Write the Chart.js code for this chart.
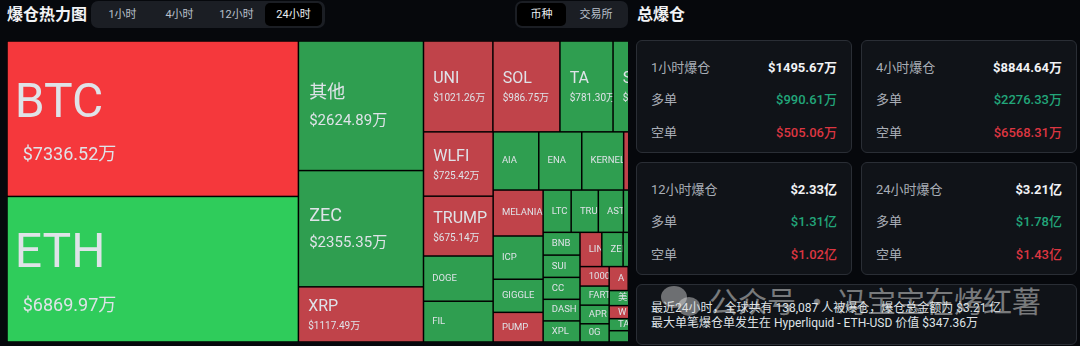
<!DOCTYPE html>
<html lang="zh-CN">
<head>
<meta charset="utf-8">
<title>爆仓热力图</title>
<script src="https://cdn.jsdelivr.net/npm/chart.js@4.4.1/dist/chart.umd.min.js"></script>
<style>
  html, body { margin: 0; padding: 0; width: 1080px; height: 346px; overflow: hidden; background: #06080c;
    font-family: Roboto, "Noto Sans CJK SC", "Noto Sans", sans-serif; color: #e6e8eb; }
  .title { position: absolute; top: 4px; font-size: 16px; font-weight: 700; line-height: 22px; color: #f2f3f5; }
  .seg { position: absolute; top: 1px; height: 27px; background: #1b1e24; border-radius: 7px; display: flex;
    align-items: center; padding: 0 3px; box-sizing: border-box; }
  .seg span { display: block; height: 23px; line-height: 23px; font-size: 11px; color: #b9c0ca; text-align: center; border-radius: 5px; }
  .seg span.on { background: #000; color: #eceff3; }
  #wrap { position: absolute; left: 7px; top: 41px; width: 621px; height: 301px; background: #000; }
  .card { position: absolute; background: #101318; border: 1px solid #2a2e35; border-radius: 6px; box-sizing: border-box; }
  .row { position: absolute; left: 14px; right: 14px; height: 20px; line-height: 20px; font-size: 13px; color: #a9aeb6; }
  .row b { position: absolute; right: 0; top: 0; font-weight: 700; color: #f1f2f4; }
  .row b.long { color: #22a67a; font-weight: 500; }
  .row b.short { color: #dc3641; font-weight: 500; }
  .note { position: absolute; left: 14px; font-size: 12px; line-height: 15px; color: #dfe2e6; white-space: nowrap; }
  .wm { position: absolute; left: 709px; top: 282px; font-size: 29px; line-height: 36px; color: rgba(225,225,225,0.5);
    font-family: "Noto Sans CJK SC", sans-serif; white-space: nowrap; }
  .wmicon { position: absolute; border-radius: 50%; background: rgba(225,225,225,0.45); }
</style>
</head>
<body>
<div class="title" style="left:7px">爆仓热力图</div>
<div class="seg" style="left:91px;width:234px" id="timeSeg"></div>
<div class="seg" style="left:515px;width:113px;padding:0 2px" id="groupSeg"></div>
<div class="title" style="left:637px">总爆仓</div>

<div id="wrap"><canvas id="chart"></canvas></div>
<div id="cards"></div>

<script>
// 币种爆仓金额（万美元），24小时
const coins = ['BTC', 'ETH', '其他', 'ZEC', 'XRP', 'UNI', 'SOL', 'TA', 'S', 'WLFI', 'TRUMP',
  'DOGE', 'FIL', 'AIA', 'ENA', 'KERNEL', '', 'MELANIA', 'ICP', 'GIGGLE', 'PUMP',
  'LTC', 'TRU', 'ASTER', '', '', 'BNB', 'SUI', 'CC', 'DASH', 'XPL',
  'LINK', 'ZEN', '', '', '1000PEPE', 'FARTCOIN', 'APR', '0G',
  'A', '', '', '美', 'W', 'TAO', '', '', '', '', '', '', '', '', ''];
const amounts = [7336.52, 6869.97, 2624.89, 2355.35, 1117.49, 1021.26, 986.75, 781.30, 750, 725.42, 675.14,
  510, 460, 430, 405, 395, 380, 372, 350, 268, 240,
  192, 186, 172, 140, 138, 136, 133, 131, 129, 126,
  121, 118, 115, 112, 92, 90, 88, 86,
  74, 71, 68, 60, 52, 48, 45, 42, 40, 37, 34, 31, 28, 25, 15];
// 主导方向：long 多单爆仓多（绿），short 空单爆仓多（红）
const dominant = ['short', 'long', 'long', 'long', 'short', 'short', 'short', 'long', 'long', 'short', 'short',
  'long', 'long', 'long', 'long', 'long', 'short', 'short', 'long', 'long', 'short',
  'long', 'long', 'long', 'long', 'long', 'long', 'long', 'long', 'long', 'long',
  'short', 'long', 'long', 'short', 'short', 'long', 'long', 'long',
  'short', 'long', 'short', 'long', 'short', 'long', 'long', 'short', 'long', 'long', 'short', 'long', 'long', 'short', 'long'];

const timeTabs = ['1小时', '4小时', '12小时', '24小时'];
const groupTabs = ['币种', '交易所'];

const periods = ['1小时爆仓', '4小时爆仓', '12小时爆仓', '24小时爆仓'];
const totals = ['$1495.67万', '$8844.64万', '$2.33亿', '$3.21亿'];
const longs = ['$990.61万', '$2276.33万', '$1.31亿', '$1.78亿'];
const shorts = ['$505.06万', '$6568.31万', '$1.02亿', '$1.43亿'];
const notes = ['最近24小时，全球共有 138,087 人被爆仓，爆仓总金额为 $3.21 亿',
  '最大单笔爆仓单发生在 Hyperliquid - ETH-USD 价值 $347.36万'];

// 顶部切换按钮
timeTabs.forEach((t, i) => {
  const s = document.createElement('span');
  s.textContent = t;
  s.style.width = '57px';
  if (i === 3) s.className = 'on';
  document.getElementById('timeSeg').appendChild(s);
});
groupTabs.forEach((t, i) => {
  const s = document.createElement('span');
  s.textContent = t;
  s.style.width = i === 0 ? '49px' : '60px';
  if (i === 0) s.className = 'on';
  document.getElementById('groupSeg').appendChild(s);
});

// 右侧汇总卡片
const cardsEl = document.getElementById('cards');
periods.forEach((p, i) => {
  const c = document.createElement('div');
  c.className = 'card';
  c.style.left = (i % 2 === 0 ? 636 : 861) + 'px';
  c.style.top = (i < 2 ? 40 : 162) + 'px';
  c.style.width = '216px';
  c.style.height = '113px';
  c.innerHTML =
    `<div class="row" style="top:17px">${p}<b>${totals[i]}</b></div>` +
    `<div class="row" style="top:49px">多单<b class="long">${longs[i]}</b></div>` +
    `<div class="row" style="top:82px">空单<b class="short">${shorts[i]}</b></div>`;
  cardsEl.appendChild(c);
});
const noteCard = document.createElement('div');
noteCard.className = 'card';
noteCard.style.cssText = 'left:636px;top:284px;width:441px;height:61px';
noteCard.innerHTML = notes.map((n, i) => `<div class="note" style="top:${16 + i * 15}px">${n}</div>`).join('');
cardsEl.appendChild(noteCard);

// 水印
cardsEl.insertAdjacentHTML('beforeend',
  '<div class="wmicon" style="left:661px;top:286px;width:26px;height:22px"></div>' +
  '<div class="wmicon" style="left:678px;top:297px;width:22px;height:19px"></div>' +
  '<div class="wm">公众号 · 冯宝宝在烤红薯</div>');

// 矩形树图布局（squarify，比例取黄金分割）
const LAYOUT_W = 657, LAYOUT_H = 301, VIEW_W = 621;

function worst(row, fixed, ratio) {
  let amax = 0, amin = Infinity;
  row.forEach(n => { if (n.area > amax) amax = n.area; if (n.area < amin) amin = n.area; });
  const sq = row.area * row.area;
  const f = fixed * fixed * ratio;
  return sq ? Math.max(f * amax / sq, sq / (f * amin)) : Infinity;
}

function place(row, fixed, rect, flush, out) {
  const horiz = fixed === rect.width;
  let last = horiz ? rect.x : rect.y;
  let other = fixed ? row.area / fixed : 0;
  const otherMax = horiz ? rect.height : rect.width;
  if (flush || other > otherMax) other = otherMax;
  const end = horiz ? rect.x + rect.width : rect.y + rect.height;
  row.forEach((n, k) => {
    const step = other ? n.area / other : 0;
    const remain = end - last;
    const len = (k === row.length - 1 || remain < step) ? remain : step;
    out[n.i] = horiz
      ? { x: last, y: rect.y, w: len, h: other }
      : { x: rect.x, y: last, w: other, h: len };
    last += len;
  });
  if (horiz) { rect.y += other; rect.height -= other; }
  else { rect.x += other; rect.width -= other; }
}

function squarify(values, W, H, ratio) {
  const total = values.reduce((a, b) => a + b, 0);
  const nodes = values.map((v, i) => ({ i, area: v / total * W * H })).sort((a, b) => b.area - a.area);
  const rect = { x: 0, y: 0, width: W, height: H };
  const out = new Array(values.length);
  let row = []; row.area = 0;
  let best = Infinity;
  let fixed = Math.min(rect.width, rect.height);
  while (nodes.length) {
    const n = nodes[0];
    row.push(n); row.area += n.area;
    const score = worst(row, fixed, ratio);
    if (score <= best) { nodes.shift(); best = score; }
    else {
      row.area -= row.pop().area;
      place(row, fixed, rect, false, out);
      fixed = Math.min(rect.width, rect.height);
      row = []; row.area = 0; best = Infinity;
    }
  }
  if (row.length) place(row, fixed, rect, true, out);
  return out;
}

const cells = squarify(amounts, LAYOUT_W, LAYOUT_H, 0.5 * (1 + Math.sqrt(5)));

function cellColor(i) {
  const big = amounts[i] > 5000;
  if (dominant[i] === 'short') return big ? '#f5383c' : '#c0434a';
  return big ? '#2fcc5b' : '#2f9e50';
}

function tier(w, h) {
  const area = w * h;
  if (area > 30000) return { label: 48, value: 18, padL: 7, padV: 15, dyL: -14, dyV: 37 };
  if (area > 12000) return { label: 18, value: 15, padL: 10, padV: 10, dyL: -12, dyV: 15 };
  if ((w >= 40 && h >= 58) || (w >= 100 && h >= 45)) return { label: 16, value: 10, padL: 9, padV: 9, dyL: -7, dyV: 12 };
  return { label: 9.5, value: 0, padL: 8, padV: 8, dyL: 0, dyV: 0 };
}

const treemapCells = {
  id: 'treemapCells',
  beforeDatasetsDraw(chart) {
    const { ctx, chartArea, scales: { x, y } } = chart;
    ctx.save();
    ctx.beginPath();
    ctx.rect(chartArea.left, chartArea.top, chartArea.width, chartArea.height);
    ctx.clip();
    cells.forEach((c, i) => {
      const x0 = x.getPixelForValue(c.x) + 0.75, x1 = x.getPixelForValue(c.x + c.w) - 0.75;
      const y0 = y.getPixelForValue(c.y) + 0.75, y1 = y.getPixelForValue(c.y + c.h) - 0.75;
      const w = x1 - x0, h = y1 - y0;
      if (w <= 0 || h <= 0) return;
      ctx.fillStyle = cellColor(i);
      ctx.fillRect(x0, y0, w, h);
      if (!coins[i]) return;
      ctx.save();
      ctx.beginPath();
      ctx.rect(x0, y0, w, h);
      ctx.clip();
      const t = tier(w, h);
      const cy = (y0 + y1) / 2;
      ctx.fillStyle = '#dfe3e8';
      ctx.textBaseline = 'middle';
      ctx.textAlign = 'left';
      ctx.font = `${t.label}px Roboto, "Noto Sans CJK SC", sans-serif`;
      ctx.fillText(coins[i], x0 + t.padL, cy + t.dyL);
      if (t.value) {
        ctx.font = `${t.value}px Roboto, "Noto Sans CJK SC", sans-serif`;
        ctx.fillText('$' + amounts[i].toFixed(2) + '万', x0 + t.padV, cy + t.dyV);
      }
      ctx.restore();
    });
    ctx.restore();
  }
};

new Chart(document.getElementById('chart'), {
  type: 'scatter',
  data: {
    datasets: [{
      label: '爆仓金额',
      data: cells.map(c => ({ x: c.x + c.w / 2, y: c.y + c.h / 2 })),
      pointRadius: 0
    }]
  },
  options: {
    responsive: true,
    maintainAspectRatio: false,
    animation: false,
    layout: { padding: 0 },
    scales: {
      x: { type: 'linear', min: 0, max: VIEW_W, display: false },
      y: { type: 'linear', min: 0, max: LAYOUT_H, reverse: true, display: false }
    },
    plugins: { legend: { display: false }, tooltip: { enabled: false } }
  },
  plugins: [treemapCells]
});
</script>
</body>
</html>
